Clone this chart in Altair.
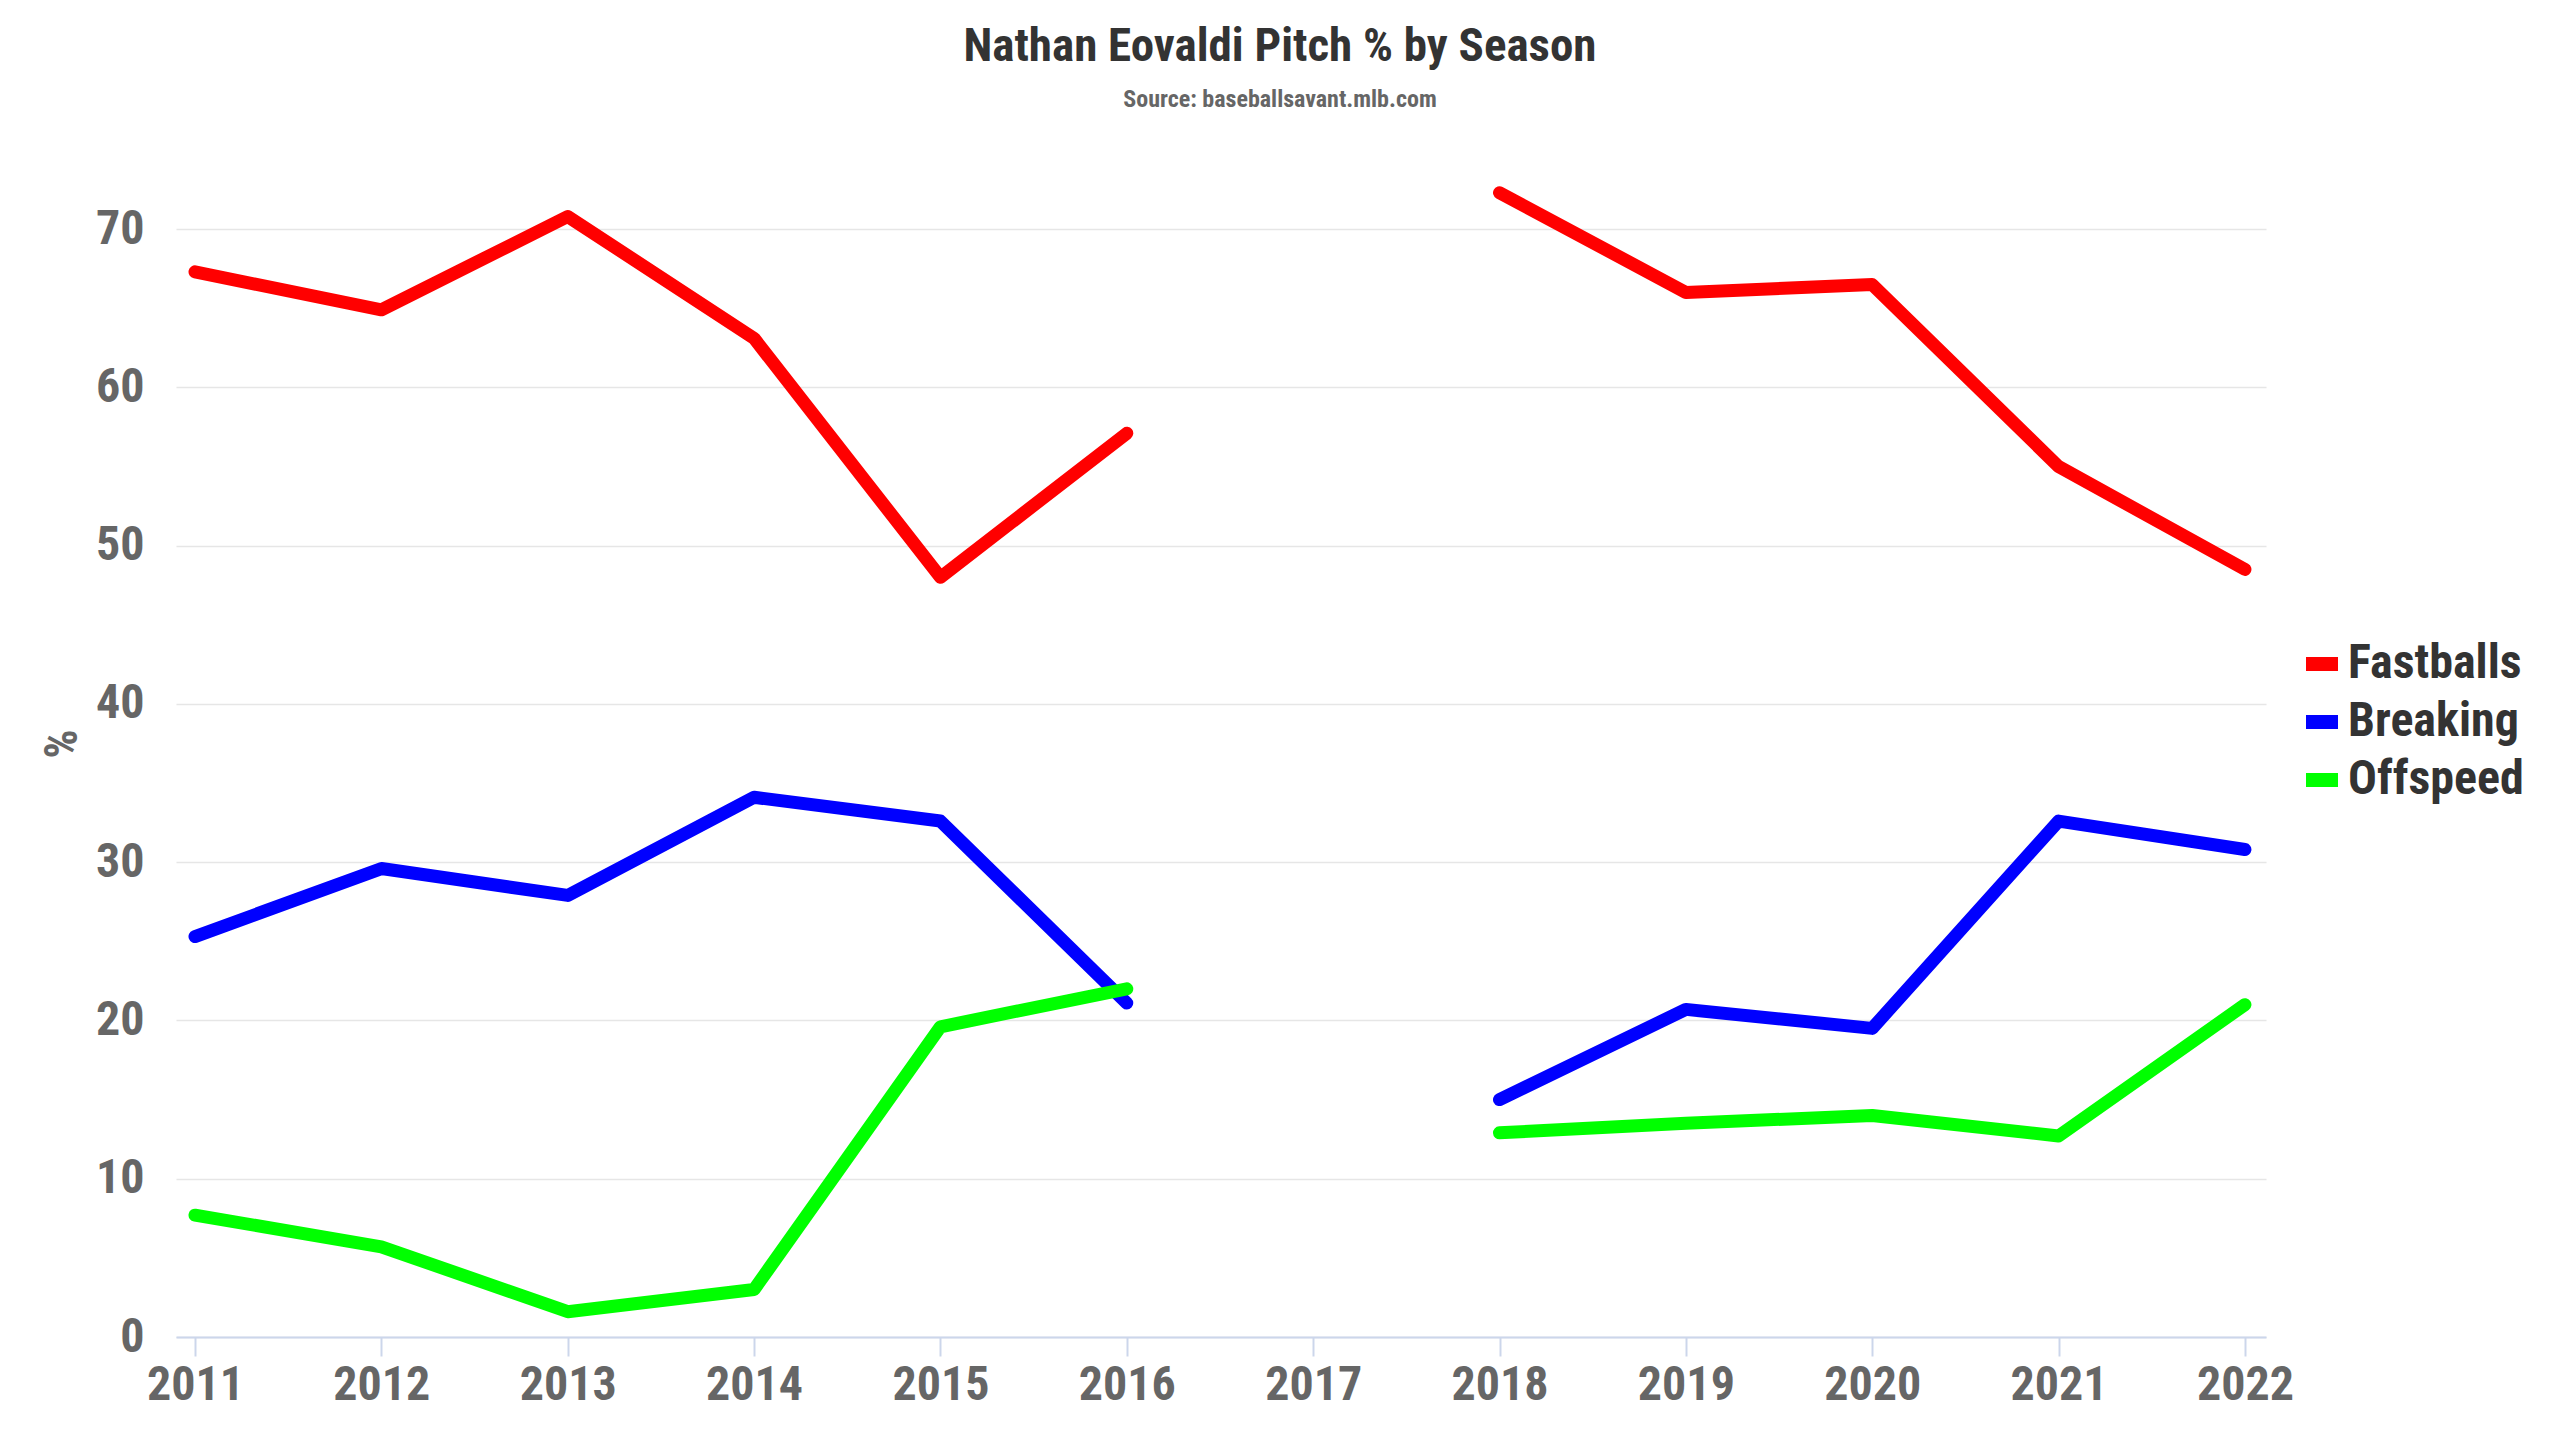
import pandas as pd
import altair as alt

# pitch mix by season (2017 missed: injury)
years = [2011, 2012, 2013, 2014, 2015, 2016, 2018, 2019, 2020, 2021, 2022]
fastballs = [67.3, 64.9, 70.8, 63.1, 48.0, 57.1, 72.3, 66.0, 66.5, 55.0, 48.5]
breaking = [25.3, 29.6, 27.9, 34.1, 32.6, 21.1, 15.0, 20.7, 19.5, 32.6, 30.8]
offspeed = [7.7, 5.7, 1.6, 3.0, 19.6, 22.0, 12.9, 13.5, 14.0, 12.7, 21.0]
tick_years = list(range(2011, 2023))

series = {'Fastballs': fastballs, 'Breaking': breaking, 'Offspeed': offspeed}
rows = []
for name, vals in series.items():
    for yr, v in zip(years, vals):
        rows.append({'Season': yr, 'Pct': v, 'Pitch': name,
                     'Stint': 'a' if yr < 2017 else 'b'})
df = pd.DataFrame(rows)

FONT = 'Roboto Condensed, Liberation Sans Narrow, DejaVu Sans Condensed, Roboto'

chart = alt.Chart(df).mark_line(strokeWidth=13, strokeCap='round', strokeJoin='round').encode(
    x=alt.X('Season:Q', title=None,
            scale=alt.Scale(domain=[2010.898, 2022.113], nice=False, zero=False),
            axis=alt.Axis(values=tick_years, format='d', grid=False, tickSize=19,
                          tickColor='#ccd6eb', tickWidth=2, domainColor='#ccd6eb',
                          domainWidth=2, labelPadding=5, labelFontSize=48,
                          labelColor='#666666', labelFontWeight='bold', labelFont=FONT)),
    y=alt.Y('Pct:Q', title='%',
            scale=alt.Scale(domain=[0, 75], nice=False),
            axis=alt.Axis(values=[0, 10, 20, 30, 40, 50, 60, 70], grid=True,
                          gridColor='#e6e6e6', gridWidth=1.5, domain=False, ticks=False,
                          labelPadding=32, labelFontSize=48, labelColor='#666666',
                          labelFontWeight='bold', labelFont=FONT,
                          titleFontSize=46, titleColor='#666666', titleFont=FONT,
                          titleFontWeight='bold', titlePadding=9)),
    color=alt.Color('Pitch:N', sort=['Fastballs', 'Breaking', 'Offspeed'],
                    scale=alt.Scale(domain=['Fastballs', 'Breaking', 'Offspeed'],
                                    range=['#ff0000', '#0000ff', '#00ff00']),
                    legend=alt.Legend(title=None, orient='none', legendX=2122, legendY=490,
                                      symbolType='stroke', symbolStrokeWidth=14,
                                      symbolSize=1024, labelFontSize=48,
                                      labelFont=FONT, labelFontWeight='bold',
                                      labelColor='#333333', rowPadding=2,
                                      labelOffset=2, labelLimit=400)),
    detail='Stint:N'
).properties(
    width=2090, height=1187,
    title=alt.TitleParams('Nathan Eovaldi Pitch % by Season',
                          subtitle='Source: baseballsavant.mlb.com',
                          fontSize=47, font=FONT, fontWeight='bold', color='#333333',
                          subtitleFontSize=24, subtitleFont=FONT,
                          subtitleFontWeight='bold', subtitleColor='#666666',
                          subtitlePadding=17, anchor='middle', offset=37, dx=59),
    autosize=alt.AutoSizeParams(type='none'),
    padding={'left': 168, 'top': 142, 'right': 286, 'bottom': 95}
).configure_view(stroke=None)

chart.save("out.html", embed_options={"renderer": "svg", "actions": False})
